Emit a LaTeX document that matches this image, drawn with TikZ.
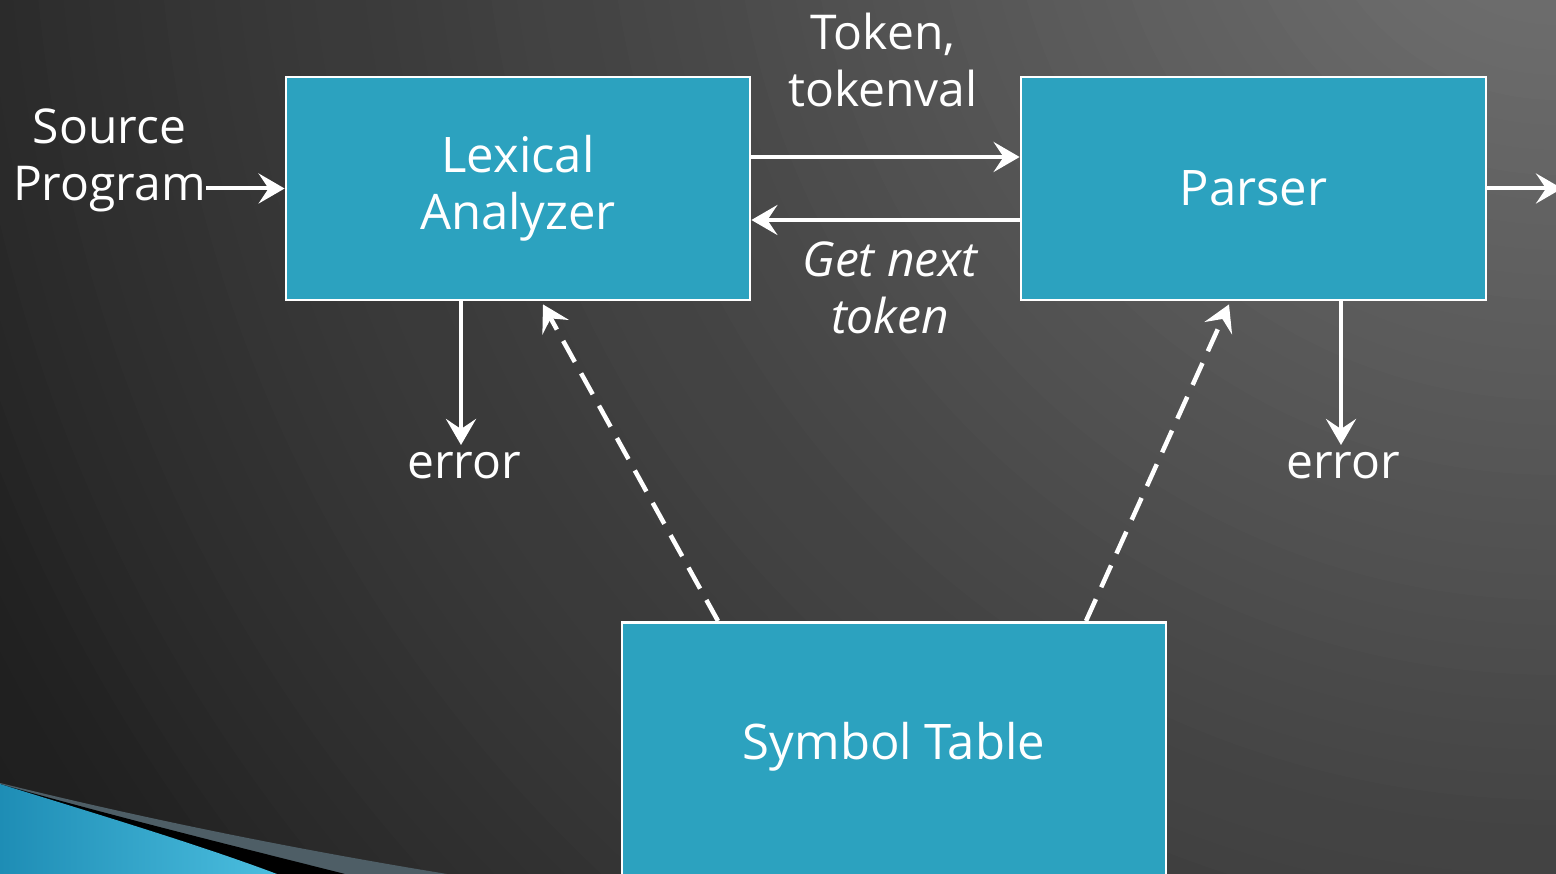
\documentclass[tikz,border=0pt]{standalone}
\usepackage{fontspec}
\setmainfont{Open Sans}
\usetikzlibrary{arrows.meta}
\definecolor{boxfill}{HTML}{2CA2BF}
\definecolor{swblueA}{HTML}{1E8DB5}
\definecolor{swblueB}{HTML}{4BBEDF}
\definecolor{swgray}{HTML}{4E5E66}
\tikzset{
  box/.style={draw=white, line width=2.8pt, fill=boxfill, rectangle, inner sep=0pt,
    text=white, align=center, font=\fontsize{49}{57}\selectfont},
  lbl/.style={text=white, inner sep=0pt, align=center, font=\fontsize{48}{57}\selectfont},
  arr/.style={draw=white, line width=4pt, -{Stealth[length=26pt, width=30pt, inset=10pt]}},
  dasharr/.style={arr, line width=4.5pt, dash pattern=on 24pt off 13pt},
}
\begin{document}
\begin{tikzpicture}[x=1pt, y=-1pt]
\useasboundingbox (0,0) rectangle (1556,874);
% background: glow from above the upper right corner, built from concentric discs
\begin{scope}
  \clip (0,0) rectangle (1556,874);
  \foreach \r in {2000,1975,...,25} {
    \pgfmathsetmacro\g{\r<=160 ? 114-\r/160*5 : (\r<=960 ? 109-(\r-160)/800*40 : (\r<=1440 ? 69-(\r-960)/480*19 : (\r<=1600 ? 50-(\r-1440)/160*8 : (\r<=1720 ? 42-(\r-1600)/120*8 : 34-(\r-1720)/280*8))))}
    \pgfmathsetmacro\gg{\g/255}
    \definecolor{bgstep}{gray}{\gg}
    \fill[bgstep] (1556,-150) circle[radius=\r];
  }
  % swoosh in the lower left corner
  \fill[swgray] (0,783) .. controls (150,820) and (300,850) .. (447,874) -- (0,874) -- cycle;
  \fill[black] (0,784) .. controls (120,818) and (250,850) .. (345,874) -- (0,874) -- cycle;
  \shade[left color=swblueA, right color=swblueB] (0,784) .. controls (100,815) and (200,845) .. (277,874) -- (0,874) -- cycle;
\end{scope}

% main blocks
\node[box, minimum width=464pt, minimum height=223pt] (lex) at (518,188.5) {Lexical\\Analyzer};
\node[box, minimum width=465pt, minimum height=223pt] (par) at (1253.5,188.5) {Parser};
\node[box, minimum width=544pt, minimum height=340pt, anchor=north] (sym) at (894,621) {};
\node[lbl, font=\fontsize{49}{57}\selectfont] (symtxt) at (894,747) {Symbol Table};

% labels
\node[lbl, anchor=east] (src) at (206,160) {Source\\Program};
\node[lbl] (tok) at (883,60) {Token,\\tokenval};
\node[lbl, font=\fontsize{48}{57}\selectfont\itshape] (gnt) at (890,288) {Get next\\token};
\node[lbl, anchor=north] (err1) at (464,452) {error};
\node[lbl, anchor=north] (err2) at (1343,452) {error};
\coordinate (out) at (1562,188.5);

% connectors
\draw[arr] (src.east |- lex.west) -- (lex.west);
\draw[arr] ([yshift=31.5pt]lex.east) -- ([yshift=31.5pt]par.west);
\draw[arr] ([yshift=-31.5pt]par.west) -- ([yshift=-31.5pt]lex.east);
\draw[arr] (par.east) -- (out);
\draw[arr] ([xshift=-57pt]lex.south) -- ([xshift=-57pt, yshift=7pt]lex.south |- err1.north);
\draw[arr] ([xshift=87.5pt]par.south) -- ([xshift=87.5pt, yshift=7pt]par.south |- err2.north);
\draw[dasharr] ([xshift=-176pt]sym.north) -- ([xshift=25pt, yshift=-3pt]lex.south);
\draw[dasharr] ([xshift=192pt]sym.north) -- ([xshift=-24.5pt, yshift=-3pt]par.south);
\end{tikzpicture}
\end{document}
